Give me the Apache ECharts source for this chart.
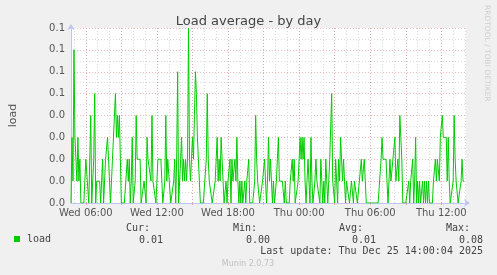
<!DOCTYPE html>
<html><head><meta charset="utf-8">
<script src="https://cdn.jsdelivr.net/npm/echarts@6/dist/echarts.min.js"></script>
<style>html,body{margin:0;padding:0;background:#f0f0f0}#c{width:497px;height:275px}</style>
</head><body><div id="c"></div>
<script>
const chartTitle = 'Load average - by day';
const seriesName = 'load';
const yAxisName = 'load';
const startMinute = 4 * 60 + 45;   // Wed 04:45
const slotMinutes = 5;
const slotCount = 401;
const xTickLabels = ['Wed 06:00', 'Wed 12:00', 'Wed 18:00', 'Thu 00:00', 'Thu 06:00', 'Thu 12:00'];
const yTickLabels = ['0.0', '0.0', '0.0', '0.0', '0.0', '0.1', '0.1', '0.1', '0.1'];
const statHeaders = ['Cur:', 'Min:', 'Avg:', 'Max:'];
const statValues = ['0.01', '0.00', '0.01', '0.08'];
const lastUpdate = 'Last update: Thu Dec 25 14:00:04 2025';
const footer = 'Munin 2.0.73';
const sideText = 'RRDTOOL / TOBI OETIKER';

const load = [
  0, 0.03, 0.01, 0.07, 0.03, 0.03, 0.01, 0.03, 0.01, 0.02,
  0, 0, 0, 0, 0, 0.02, 0.02, 0.02, 0, 0,
  0.04, 0, 0.01, 0.02, 0.05, 0, 0.01, 0.01, 0.01, 0.01,
  0, 0, 0.02, 0, 0, 0.02, 0.02, 0.03, 0.02, 0.02,
  0, 0, 0.02, 0.02, 0.02, 0.05, 0.03, 0.04, 0.03, 0.04,
  0.02, 0, 0, 0, 0, 0, 0, 0.02, 0.01, 0.02,
  0, 0.01, 0.03, 0, 0, 0.01, 0.04, 0.02, 0.02, 0.02,
  0.02, 0, 0, 0, 0.01, 0.01, 0, 0.03, 0.02, 0.02,
  0.02, 0.01, 0.04, 0.01, 0.01, 0.01, 0, 0, 0.02, 0.02,
  0.02, 0.02, 0.01, 0, 0, 0.01, 0.04, 0.01, 0.02, 0.02,
  0.02, 0, 0, 0, 0.01, 0.02, 0, 0.02, 0.06, 0,
  0, 0.02, 0.03, 0.01, 0.02, 0.01, 0.02, 0.01, 0.02, 0.08,
  0.02, 0.01, 0.02, 0.03, 0.02, 0.04, 0.06, 0.05, 0.03, 0.02,
  0.01, 0, 0, 0, 0, 0, 0, 0.02, 0.05, 0.02,
  0.01, 0.01, 0.01, 0, 0, 0, 0.01, 0.01, 0.03, 0.01,
  0.02, 0.01, 0.03, 0.02, 0.01, 0, 0, 0.01, 0, 0.01,
  0.01, 0.02, 0, 0.02, 0.01, 0.01, 0.02, 0.01, 0.03, 0.01,
  0, 0.01, 0, 0.01, 0, 0, 0.01, 0, 0.01, 0.01,
  0.02, 0, 0, 0, 0, 0, 0.01, 0.04, 0.02, 0.01,
  0.01, 0, 0, 0, 0.01, 0.01, 0.02, 0.01, 0, 0.01,
  0.03, 0.01, 0.02, 0.01, 0, 0.01, 0, 0, 0.01, 0.02,
  0.03, 0.01, 0.01, 0.01, 0.01, 0.01, 0, 0.01, 0, 0,
  0, 0, 0.01, 0.01, 0.02, 0.01, 0.02, 0, 0, 0,
  0.01, 0.02, 0.03, 0.02, 0.03, 0.02, 0.03, 0.01, 0, 0.01,
  0.02, 0.01, 0, 0.03, 0.01, 0, 0, 0.01, 0.02, 0.01,
  0.01, 0.01, 0, 0.02, 0.01, 0, 0.01, 0, 0.02, 0.01,
  0, 0.01, 0.02, 0.02, 0.05, 0.01, 0.01, 0, 0.02, 0.01,
  0, 0.02, 0.01, 0.03, 0.02, 0.01, 0.02, 0.01, 0, 0.01,
  0.01, 0.01, 0, 0, 0.01, 0.01, 0, 0.01, 0.01, 0.01,
  0, 0, 0.01, 0.01, 0.02, 0.01, 0.01, 0.02, 0.02, 0,
  0, 0, 0, 0, 0, 0, 0, 0, 0, 0,
  0, 0, 0, 0, 0.02, 0.03, 0.02, 0.02, 0.02, 0.02,
  0.01, 0, 0.01, 0.02, 0.01, 0.01, 0.02, 0.02, 0.03, 0.01,
  0.01, 0.02, 0.01, 0.04, 0.03, 0.02, 0, 0, 0, 0,
  0, 0, 0.01, 0, 0.01, 0.01, 0.02, 0, 0.01, 0.03,
  0, 0.01, 0, 0.01, 0, 0, 0.01, 0, 0.01, 0,
  0.01, 0, 0.01, 0, 0, 0, 0, 0.01, 0.01, 0.02,
  0.01, 0.02, 0.02, 0.01, 0.03, 0.03, 0.04, 0.03, 0.03, 0.03,
  0.03, 0.01, 0.03, 0.01, 0, 0, 0, 0.01, 0.04, 0.02,
  0.01, 0.01, 0, 0, 0, 0.01, 0.02, 0.01, 0.01
];

const categories = [];
for (let i = 0; i < slotCount; i++) {
  const m = startMinute + i * slotMinutes;
  const day = m >= 1440 ? 'Thu' : 'Wed';
  const mm = m % 1440;
  categories.push(day + ' ' + String(Math.floor(mm / 60)).padStart(2, '0') + ':' + String(mm % 60).padStart(2, '0'));
}
const isHour = (idx) => categories[idx] && categories[idx].endsWith(':00');
const isMajor = (idx) => isHour(idx) && parseInt(categories[idx].slice(4, 6), 10) % 3 === 0;
const isLabel = (idx) => xTickLabels.indexOf(categories[idx]) >= 0;

const axisColor = '#c4c4f4';
const majorGrid = 'rgba(225,130,130,0.55)';
const minorGrid = '#dadada';
const textColor = '#555';
const mono = '"DejaVu Sans Mono", monospace';

const graphics = [];
const headerX = [150, 257, 363, 470];
const valueX = [163, 270, 376, 483];
statHeaders.forEach((t, k) => graphics.push({type: 'text', x: headerX[k], y: 228,
  style: {text: t, align: 'right', verticalAlign: 'middle', font: '10px ' + mono, fill: '#444'}}));
statValues.forEach((t, k) => graphics.push({type: 'text', x: valueX[k], y: 240,
  style: {text: t, align: 'right', verticalAlign: 'middle', font: '10px ' + mono, fill: '#444'}}));
graphics.push({type: 'text', x: 483, y: 251,
  style: {text: lastUpdate, align: 'right', verticalAlign: 'middle', font: '10px ' + mono, fill: '#444'}});
graphics.push({type: 'text', x: 248, y: 264,
  style: {text: footer, align: 'center', verticalAlign: 'middle', font: '8px "DejaVu Sans"', fill: '#c0c0c0'}});
graphics.push({type: 'text', x: 487, y: 5, rotation: -Math.PI / 2,
  style: {text: sideText, align: 'left', verticalAlign: 'middle', font: '7.5px "DejaVu Sans"', fill: '#cfcfcf'}});

const chart = echarts.init(document.getElementById('c'), null, {renderer: 'canvas'});
chart.setOption({
  animation: false,
  backgroundColor: '#f0f0f0',
  title: {text: chartTitle, left: 'center', top: 10,
    textStyle: {fontFamily: 'DejaVu Sans', fontSize: 13, fontWeight: 'normal', color: '#444'}},
  legend: {data: [seriesName], left: 14, top: 234, padding: 0, icon: 'rect', itemWidth: 6, itemHeight: 6,
    selectedMode: false,
    textStyle: {fontFamily: mono, fontSize: 10, color: '#444', padding: [0, 0, 0, 2]}},
  grid: {left: 66, top: 28, width: 400, height: 175, show: true, backgroundColor: '#ffffff', borderWidth: 0},
  xAxis: [
    {type: 'category', data: categories, boundaryGap: false, position: 'bottom',
      axisLine: {show: false}, axisTick: {show: false}, axisLabel: {show: false},
      splitLine: {show: true, interval: (i) => isHour(i), lineStyle: {color: minorGrid, type: [1, 2], width: 1}}},
    {type: 'category', data: categories, boundaryGap: false, position: 'bottom',
      axisLine: {show: true, lineStyle: {color: axisColor, width: 1}, symbol: ['none', 'arrow'], symbolSize: [6, 6], symbolOffset: [0, 4]},
      axisTick: {show: true, interval: (i) => isMajor(i), length: 2, lineStyle: {color: majorGrid}},
      axisLabel: {show: true, interval: (i) => isLabel(i), margin: 5, color: textColor, fontFamily: 'DejaVu Sans', fontSize: 10},
      splitLine: {show: true, interval: (i) => isMajor(i), lineStyle: {color: majorGrid, type: [1, 2], width: 1}}}
  ],
  yAxis: {type: 'value', min: 0, max: 0.08, interval: 0.01,
    name: yAxisName, nameLocation: 'middle', nameRotate: 90, nameGap: 52,
    nameTextStyle: {fontFamily: 'DejaVu Sans', fontSize: 11, color: textColor},
    axisLine: {show: true, lineStyle: {color: axisColor, width: 1}, symbol: ['none', 'arrow'], symbolSize: [6, 6], symbolOffset: [0, 4]},
    axisTick: {show: false},
    axisLabel: {margin: 6, color: textColor, fontFamily: 'DejaVu Sans', fontSize: 10,
      formatter: (v) => yTickLabels[Math.round(v * 100)]},
    splitLine: {show: true, lineStyle: {color: majorGrid, type: [1, 2], width: 1}},
    minorTick: {show: false, splitNumber: 2},
    minorSplitLine: {show: true, lineStyle: {color: minorGrid, type: [1, 2], width: 1}}},
  series: [{name: seriesName, type: 'line', xAxisIndex: 1, data: load, symbol: 'none', showSymbol: false,
    lineStyle: {color: '#00cc00', width: 1}, itemStyle: {color: '#00cc00'}, z: 5}],
  graphic: graphics
});
</script></body></html>
